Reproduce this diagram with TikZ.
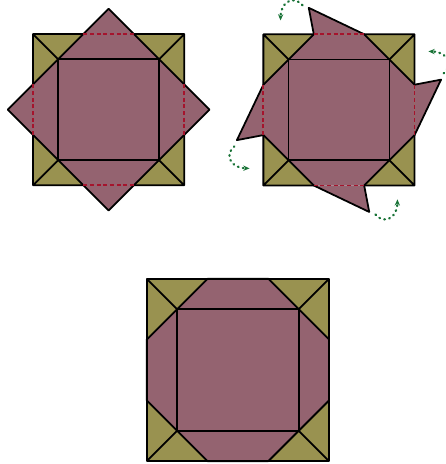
\documentclass[tikz,border=0pt]{standalone}
\usetikzlibrary{arrows.meta}
\definecolor{petal}{RGB}{148,99,112}
\definecolor{leaf}{RGB}{153,146,80}
\definecolor{crease}{RGB}{165,20,45}
\definecolor{twist}{RGB}{25,115,55}
\tikzset{
  edge/.style={line width=2pt,line join=round},
  fold/.style={crease,line width=2pt,dash pattern=on 4.5pt off 3pt},
  turn/.style={twist,line width=2.6pt,line cap=round,dash pattern=on 0.8pt off 5pt,
    -{Stealth[length=7pt,width=6pt]}}
}
\begin{document}
\begin{tikzpicture}
\useasboundingbox (0,0) rectangle (17.66,18.41);
\begin{scope}[shift={(4.31,14.06)}]
\fill[leaf] (-3,-3) rectangle (3,3);
\fill[petal] (0,4)--(4,0)--(0,-4)--(-4,0)--cycle;
\draw[edge] (0,4)--(4,0)--(0,-4)--(-4,0)--cycle;
\draw[edge] (-2,-2) rectangle (2,2);
\foreach \a in {0,90,180,270}{
  \draw[edge,rotate=\a] (-3,1)--(-3,3)--(-1,3) (-3,3)--(-2,2);
  \draw[fold,rotate=\a] (-1,3)--(1,3);
}
\end{scope}
\begin{scope}[shift={(13.45,14.05)}]
\fill[leaf] (-3,-3) rectangle (3,3);
\fill[petal] (-1,3)--(1,3)--(3,1)--(3,-1)--(1,-3)--(-1,-3)--(-3,-1)--(-3,1)--cycle;
\foreach \a in {0,-90,-180,-270}
  \fill[petal,rotate=\a] (-1,3)--(-1.2,4.05)--(1,3)--cycle;
\draw[edge] (-2,-2) rectangle (2,2);
\foreach \a in {0,-90,-180,-270}{
  \draw[edge,rotate=\a] (-2,2)--(-1,3)--(-1.2,4.05)--(1,3)--(2,2);
  \draw[edge,rotate=\a] (-3,1)--(-3,3)--(-1,3) (-3,3)--(-2,2);
  \draw[fold,rotate=\a] (-1,3)--(1,3);
  \draw[turn,rotate=\a] (-1.45,4.15) .. controls (-1.7,4.5) and (-2.3,4.4) .. (-2.32,3.55);
}
\end{scope}
\begin{scope}[shift={(9.44,3.73)},scale=1.206]
\fill[leaf] (-3,-3) rectangle (3,3);
\fill[petal] (-1,3)--(1,3)--(3,1)--(3,-1)--(1,-3)--(-1,-3)--(-3,-1)--(-3,1)--cycle;
\draw[edge] (-1,3)--(1,3)--(3,1)--(3,-1)--(1,-3)--(-1,-3)--(-3,-1)--(-3,1)--cycle;
\draw[edge] (-3,-3) rectangle (3,3);
\draw[edge] (-2,-2) rectangle (2,2);
\draw[edge] (-3,-3)--(-2,-2) (3,-3)--(2,-2) (3,3)--(2,2) (-3,3)--(-2,2);
\end{scope}
\end{tikzpicture}
\end{document}
